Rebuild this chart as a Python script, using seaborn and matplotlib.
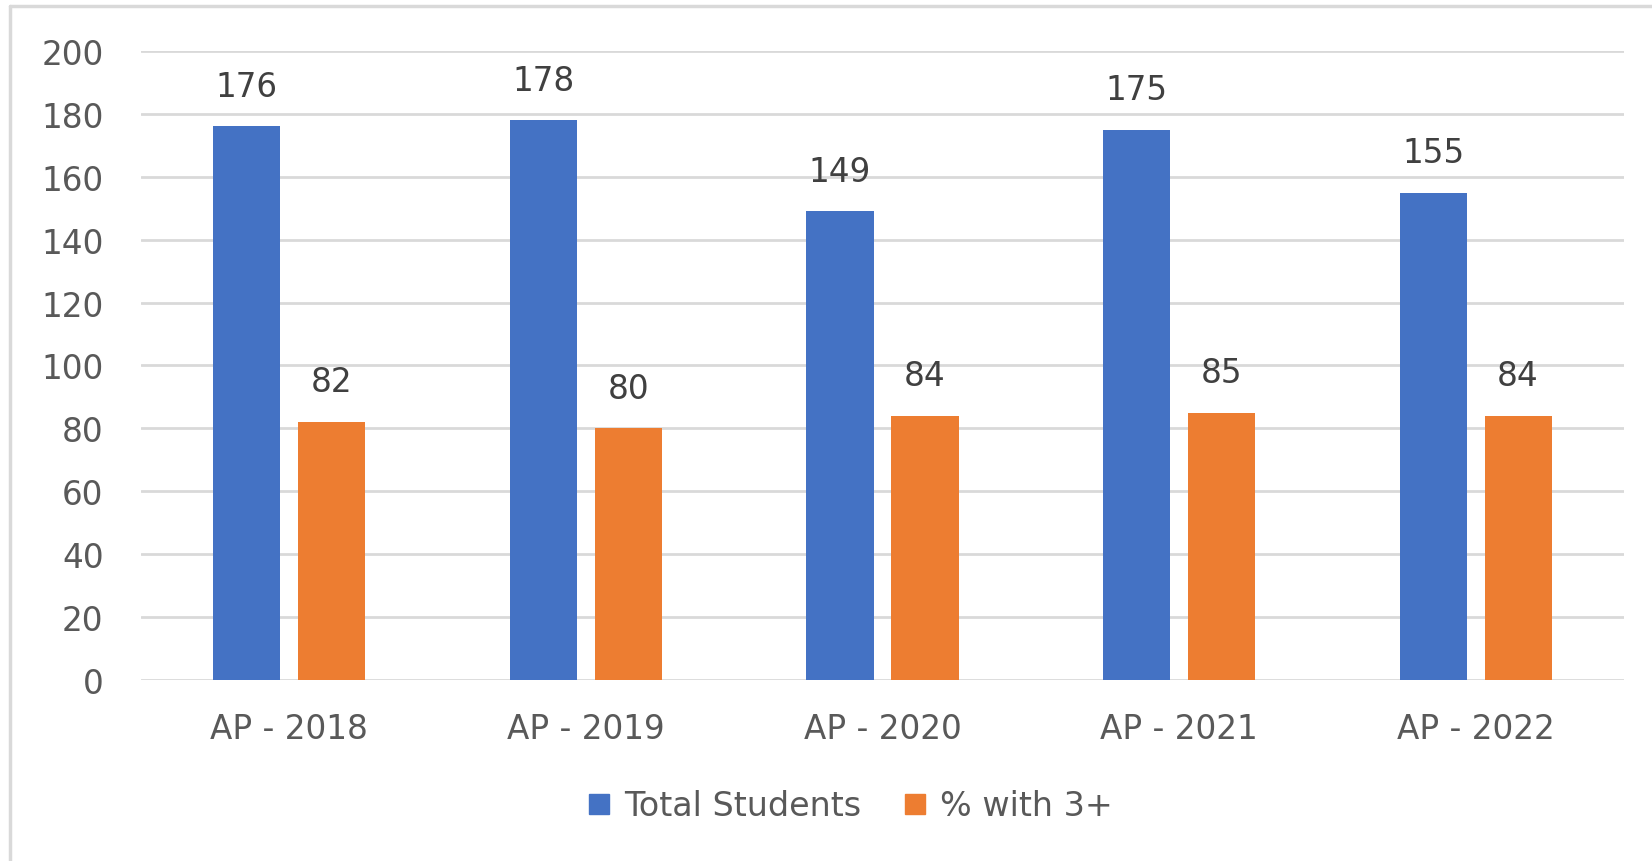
import numpy as np
import pandas as pd
import matplotlib
matplotlib.use("Agg")
import matplotlib.pyplot as plt
import seaborn as sns
from matplotlib.lines import Line2D

# chart data
years = ["AP - 2018", "AP - 2019", "AP - 2020", "AP - 2021", "AP - 2022"]
total_students = [176, 178, 149, 175, 155]
pct_with_3 = [82, 80, 84, 85, 84]
series_names = ["Total Students", "% with 3+"]
colors = ["#4472C4", "#ED7D31"]

df = pd.DataFrame({
    "year": years * 2,
    "value": total_students + pct_with_3,
    "series": [series_names[0]] * len(years) + [series_names[1]] * len(years),
})

sns.set_style("white")
plt.rcParams["font.family"] = ["DejaVu Sans"]
text_col = "#595959"
fsize = 23.5

fig = plt.figure(figsize=(16.52, 8.62), dpi=100)
ax = fig.add_axes([0.0854, 0.21, 0.8976, 0.7297])

sns.barplot(data=df, x="year", y="value", hue="series", palette=colors,
            width=0.573, gap=0.21, ax=ax, legend=False, saturation=1,
            linewidth=0)

ax.set_ylim(0, 200)
ax.set_xlim(-0.5, len(years) - 0.5)
ax.set_yticks(range(0, 201, 20))
ax.yaxis.grid(True, color="#d9d9d9", linewidth=2)
ax.set_axisbelow(True)
for s in ax.spines.values():
    s.set_visible(False)
ax.set_xlabel("")
ax.set_ylabel("")
ax.tick_params(axis="both", length=0, colors=text_col, labelsize=fsize)
ax.tick_params(axis="x", pad=23)
ax.tick_params(axis="y", pad=27)

# data labels
for cont in ax.containers:
    ax.bar_label(cont, padding=17, fontsize=fsize, color="#404040")

# legend under the plot
handles = [Line2D([0], [0], marker="s", linestyle="", markersize=15,
                  markerfacecolor=c, markeredgecolor=c) for c in colors]
fig.legend(handles, series_names, loc="center", bbox_to_anchor=(0.514, 0.064),
           ncol=2, frameon=False, fontsize=24, labelcolor=text_col,
           handlelength=0.8, handletextpad=0.35, columnspacing=1.2)

# chart border (top and left visible)
fig.add_artist(Line2D([10 / 1652, 1], [1 - 7 / 862, 1 - 7 / 862],
                      color="#d9d9d9", linewidth=2.5))
fig.add_artist(Line2D([10 / 1652, 10 / 1652], [0, 1 - 7 / 862],
                      color="#d9d9d9", linewidth=2.5))

fig.savefig("out.png", dpi=100, facecolor="white")
